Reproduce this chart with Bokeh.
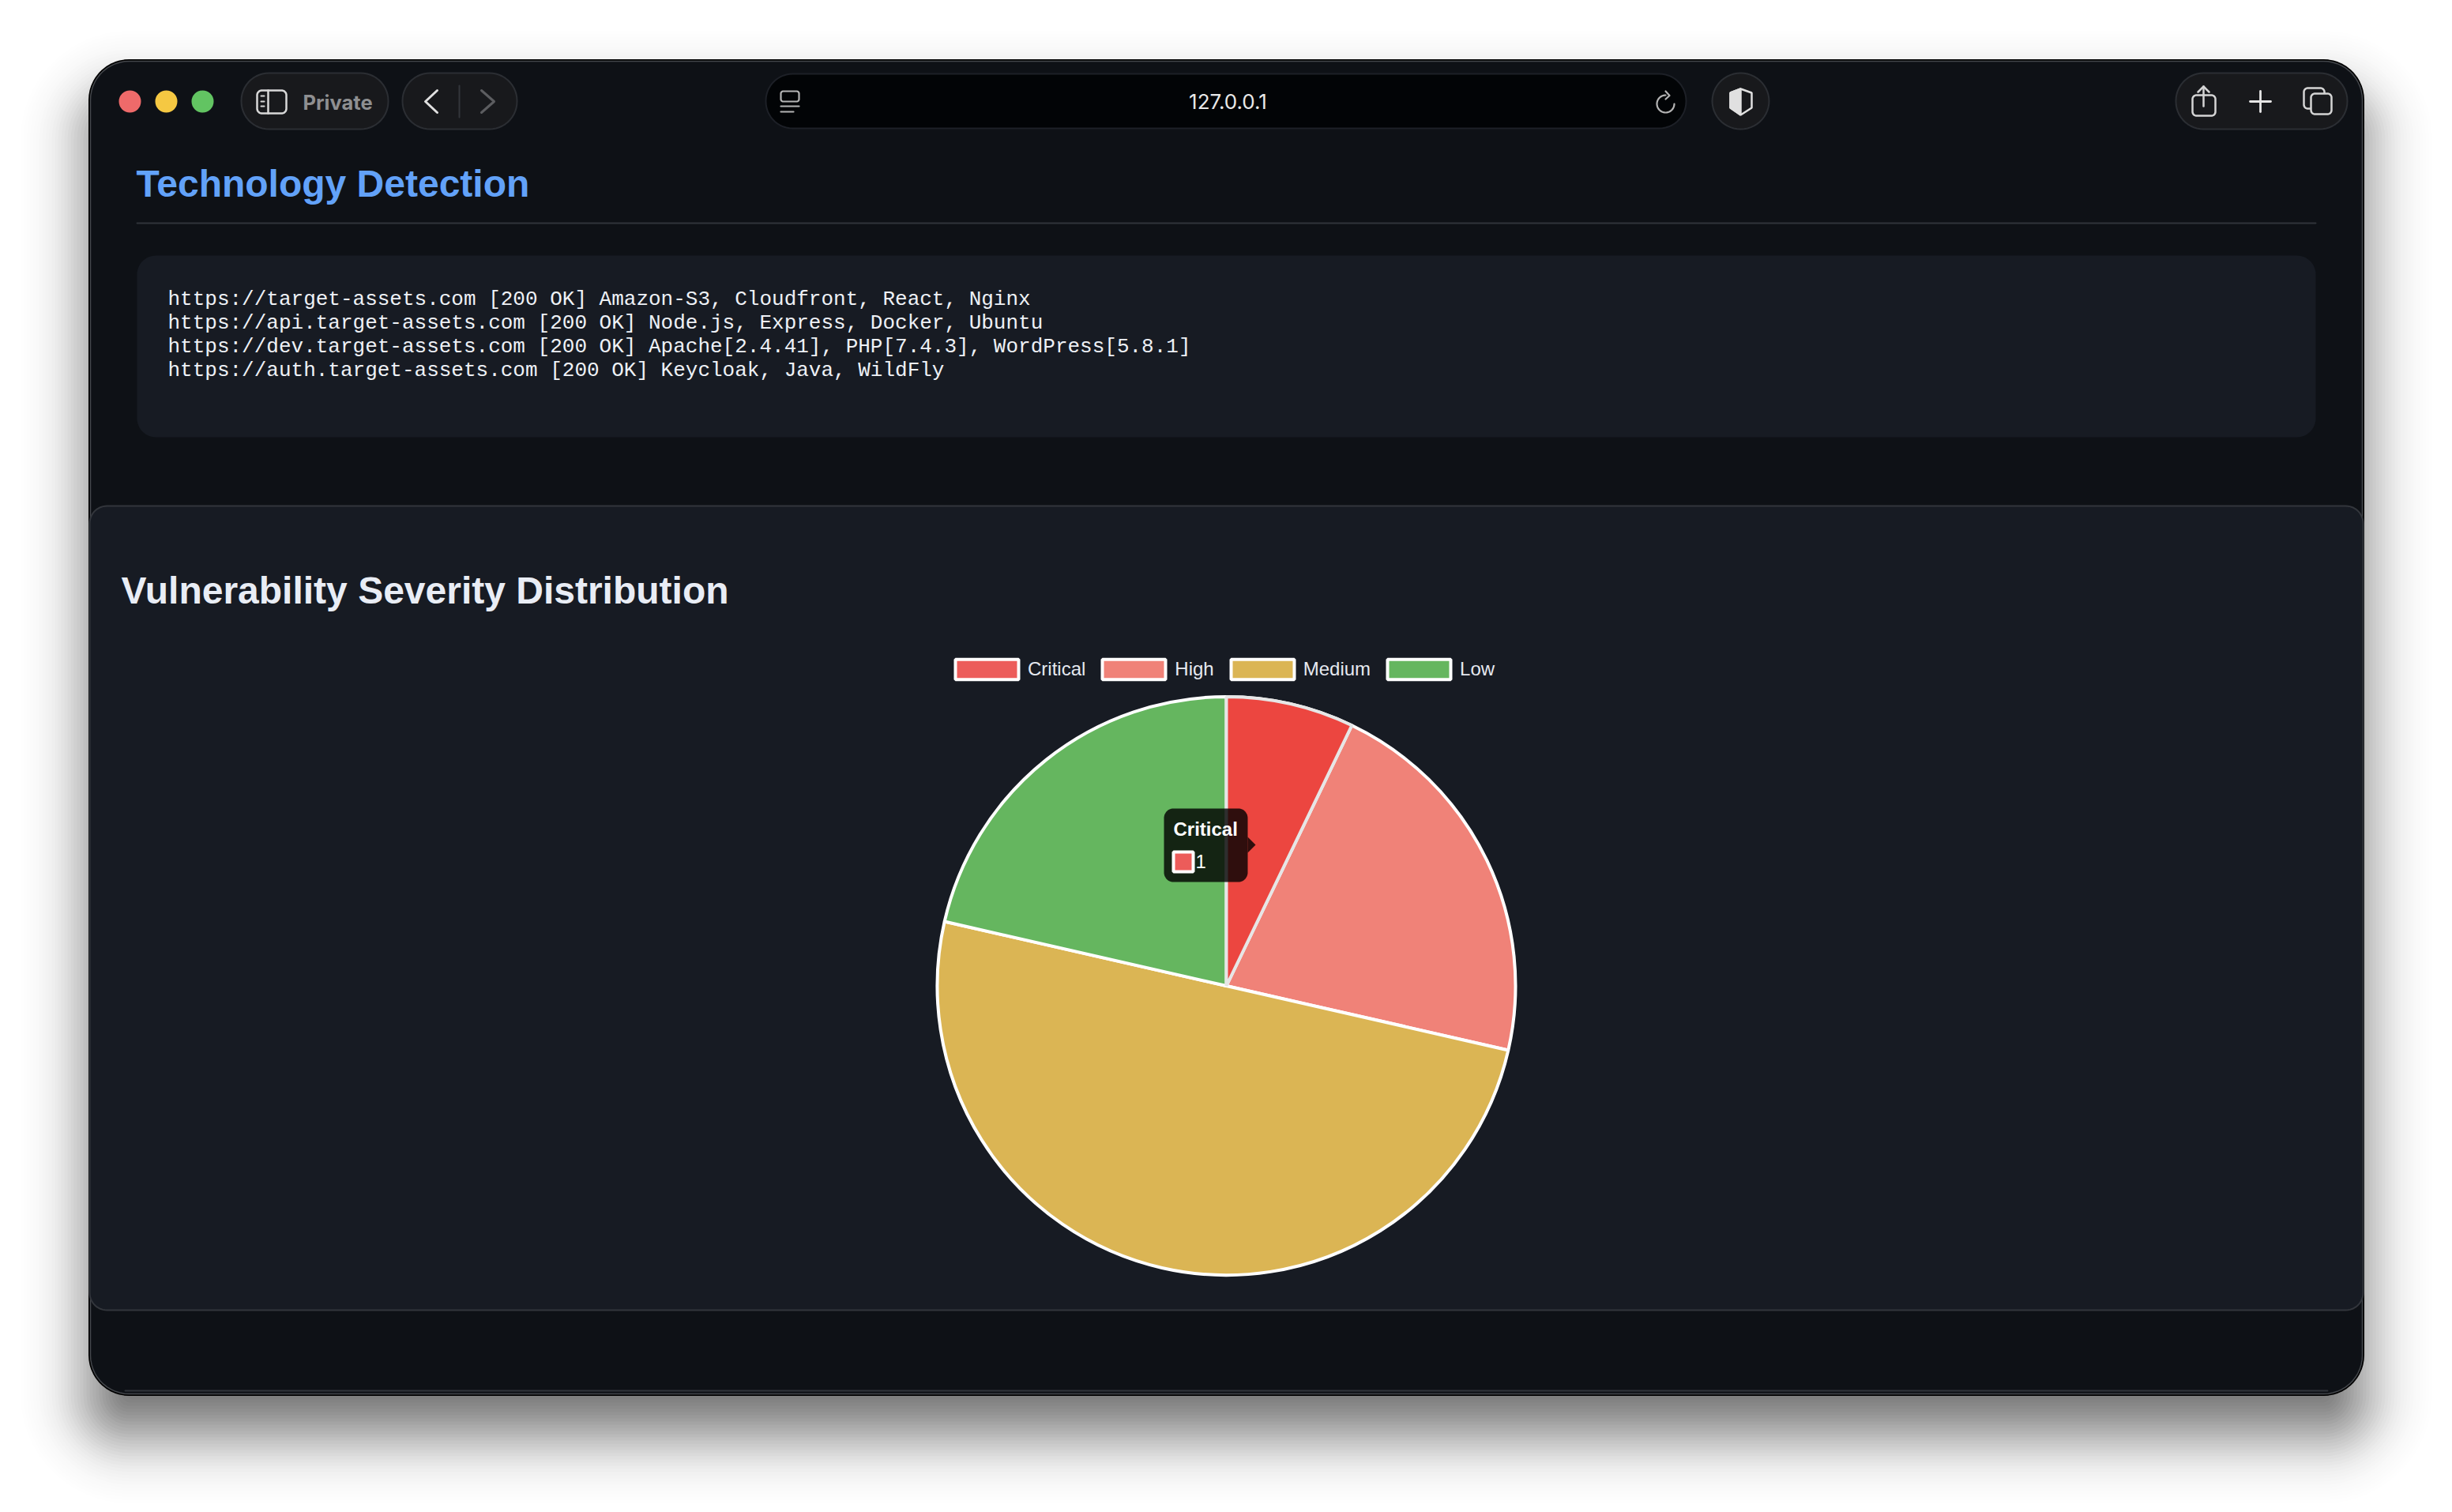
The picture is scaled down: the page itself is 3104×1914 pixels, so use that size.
import numpy as np
from math import erf, sqrt, pi
from bokeh.core.properties import value
from bokeh.plotting import figure
from bokeh.models import Range1d, Legend, LegendItem
from bokeh.embed import file_html
from bokeh.resources import INLINE

# ---- chart data ----
categories = ["Critical", "High", "Medium", "Low"]
severity_counts = [1, 3, 7, 3]
hovered_category = "Critical"
page_title = "Technology Detection"
chart_title = "Vulnerability Severity Distribution"
tech_lines = [
    "https://target-assets.com [200 OK] Amazon-S3, Cloudfront, React, Nginx",
    "https://api.target-assets.com [200 OK] Node.js, Express, Docker, Ubuntu",
    "https://dev.target-assets.com [200 OK] Apache[2.4.41], PHP[7.4.3], WordPress[5.8.1]",
    "https://auth.target-assets.com [200 OK] Keycloak, Java, WildFly",
]
url_text = "127.0.0.1"
private_text = "Private"

# ---- styles ----
slice_colors = ["#ec5c5a", "#f08278", "#dbb554", "#65b65f"]
hover_color = "#ec4640"
W, H = 3104, 1914

p = figure(width=W, height=H, output_backend="svg", toolbar_location=None,
           x_range=Range1d(0, W), y_range=Range1d(0, H), min_border=0,
           background_fill_color="white", border_fill_color="white", outline_line_color=None)
p.axis.visible = False
p.grid.visible = False


def Y(y):
    return H - np.asarray(y, dtype=float)


def rr(x0, y0, x1, y1, r, n=14):
    a = np.linspace(0, pi / 2, n)
    xs = np.concatenate([x1 - r + r * np.sin(a), x1 - r + r * np.cos(a),
                         x0 + r - r * np.sin(a), x0 + r - r * np.cos(a)])
    ys = np.concatenate([y0 + r - r * np.cos(a), y1 - r + r * np.sin(a),
                         y1 - r + r * np.cos(a), y0 + r - r * np.sin(a)])
    return xs, Y(ys)


def box(x0, y0, x1, y1, r, fill=None, line=None, lw=1.0, alpha=1.0):
    xs, ys = rr(x0, y0, x1, y1, r)
    p.patch(xs, ys, fill_color=fill, fill_alpha=alpha if fill else 0, line_color=line,
            line_width=lw, line_alpha=1 if line else 0)


def ln(xs, ys, color, lw=3.0):
    p.line(xs, Y(ys), line_color=color, line_width=lw, line_cap="round", line_join="round")


def txt(x, y, s, size, color, font="Liberation Sans", style="normal", align="left"):
    # the svg text sits about a third of an em under the requested baseline
    p.text([x], Y([y - 0.33 * size]), text=[s], text_font=value(font), text_font_size=value(f"{size}px"),
           text_font_style=style, text_color=color, text_align=align, text_baseline="alphabetic")


# ---- window shadow ----
WX0, WY0, WX1, WY1 = 113, 76, 2991, 1765
phi = lambda z: 0.5 * (1 + erf(z / sqrt(2)))
prev = 0.0
for e in range(120, -124, -4):
    target = 0.55 * phi(-e / 42)
    a = 1 - (1 - target) / (1 - prev)
    prev = target
    box(WX0 - e, WY0 - e + 50, WX1 + e, WY1 + e + 50, max(50 + e, 12), fill="#000000", alpha=a)

# ---- window ----
box(WX0, WY0, WX1, WY1, 50, fill="#0e1116", line="#000000", lw=3)
box(WX0 + 1, WY0 + 1, WX1 - 1, WY1 - 1, 49, line="#44474c", lw=1.5)
ln([WX0 + 45, WX1 - 45], [1760, 1760], "#30343a", 2)

# traffic lights
for cx, col in zip([164, 210, 256], ["#ee6a6a", "#f5c842", "#62c462"]):
    p.circle([cx], Y([128]), radius=14, fill_color=col, line_color=None)

pill_fill, pill_line = "#18191c", "#2b2e33"
box(305, 92, 491, 163, 35, fill=pill_fill, line=pill_line, lw=2)
box(509, 92, 654, 163, 35, fill=pill_fill, line=pill_line, lw=2)
box(969, 93, 2134, 162, 34, fill="#020406", line="#1d2027", lw=2)
box(2167, 92, 2239, 163, 35.9, fill=pill_fill, line=pill_line, lw=2)
box(2754, 92, 2971, 163, 35, fill=pill_fill, line=pill_line, lw=2)

# sidebar icon + private
box(325, 114, 362, 143, 6, line="#d8d8d8", lw=2.5)
ln([339, 339], [114, 143], "#d8d8d8", 2.5)
for yy in [121, 128, 134]:
    ln([330, 334], [yy, yy], "#d8d8d8", 2)
txt(383, 137, private_text, 25.5, "#8e8f91", font="Inter", style="bold")

# chevrons
ln([553, 538, 553], [114, 128, 142], "#e0e0e0", 3)
ln([581, 581], [108, 148], "#33363b", 2)
ln([609, 625, 609], [114, 128, 142], "#5c5d60", 3)

# url bar
box(988, 115, 1011, 128, 3, line="#b4b4b4", lw=2.2)
ln([988, 1011], [134, 134], "#b4b4b4", 2.2)
ln([988, 1004], [141, 141], "#b4b4b4", 2.2)
txt(1554, 137, url_text, 26, "#e8e8e8", font="Inter", align="center")
ang = np.linspace(pi / 2, 2 * pi, 40)
ln(2108 + 11 * np.cos(ang), 131 - 11 * np.sin(ang), "#b4b4b4", 2.2)
ln([2108, 2113, 2108], [115, 120.5, 125], "#b4b4b4", 2.2)

# shield
sx = [2203, 2217, 2217, 2203, 2190, 2190, 2203]
sy = [112, 117, 136, 145, 136, 117, 112]
p.patch(sx, Y(sy), fill_color=None, line_color="#e0e0e0", line_width=2.5)
p.patch(sx[3:], Y(sy[3:]), fill_color="#e0e0e0", line_color="#e0e0e0", line_width=2.5)

# right controls
box(2775, 120, 2804, 146, 5, line="#d4d4d4", lw=2.5)
ln([2789, 2789], [109, 134], "#d4d4d4", 2.5)
ln([2782, 2789, 2796], [116, 109, 116], "#d4d4d4", 2.5)
ln([2848, 2874], [128, 128], "#e6e6e6", 2.8)
ln([2861, 2861], [115, 141], "#e6e6e6", 2.8)
box(2916, 111, 2942, 137, 5, line="#d4d4d4", lw=2.5)
box(2925, 118, 2951, 144, 5, fill=pill_fill, line="#d4d4d4", lw=2.5)

# ---- technology section ----
txt(172, 248, page_title, 48, "#62a2f9", style="bold")
ln([173, 2931], [282, 282], "#30343a", 2)
box(173, 323, 2931, 553, 24, fill="#171b23")
for line_text, base in zip(tech_lines, [387, 417, 447, 477]):
    txt(212, base, line_text, 26, "#eef1f6", font="Liberation Mono")

# ---- chart card ----
box(113, 640, 2991, 1658, 22, fill="#171b23", line="#33363c", lw=2)
txt(153, 763, chart_title, 48, "#e9edf5", style="bold")

# ---- pie ----
CX, CY, R = 1552, 1247.5, 366
total = sum(severity_counts)
edges = np.cumsum([0] + severity_counts) / total * 2 * pi
items = []
for i, cat in enumerate(categories):
    start, end = pi / 2 - edges[i + 1], pi / 2 - edges[i]
    r = p.wedge([CX], Y([CY]), radius=R, start_angle=start, end_angle=end,
                fill_color=slice_colors[i], line_color="white", line_width=4)
    items.append(LegendItem(label=cat, renderers=[r]))
i = categories.index(hovered_category)
p.wedge([CX], Y([CY]), radius=R, start_angle=pi / 2 - edges[i + 1], end_angle=pi / 2 - edges[i],
        fill_color=hover_color, line_color="#e6e6e6", line_width=4)

legend = Legend(items=items, orientation="horizontal", location=(1199, 1051.5),
                glyph_width=100, glyph_height=32, label_standoff=2, spacing=11, padding=0, margin=0,
                background_fill_alpha=0, border_line_color=None, label_text_color="#e6e9f0",
                label_text_font="Liberation Sans", label_text_font_size="24px", label_height=32)
p.add_layout(legend)

# ---- tooltip ----
box(1473, 1023, 1579, 1116, 12, fill="#000000", alpha=0.8)
p.patch([1579, 1589, 1579], Y([1059, 1069, 1079]), fill_color="#000000", fill_alpha=0.8, line_color=None)
txt(1485, 1057, hovered_category, 24, "#ffffff", style="bold")
p.quad(left=[1485], right=[1510], top=Y([1078]), bottom=Y([1103]),
       fill_color=slice_colors[i], line_color="white", line_width=4)
txt(1513, 1098, str(severity_counts[i]), 24, "#ffffff")

open("out.html", "w").write(file_html(p, INLINE))
